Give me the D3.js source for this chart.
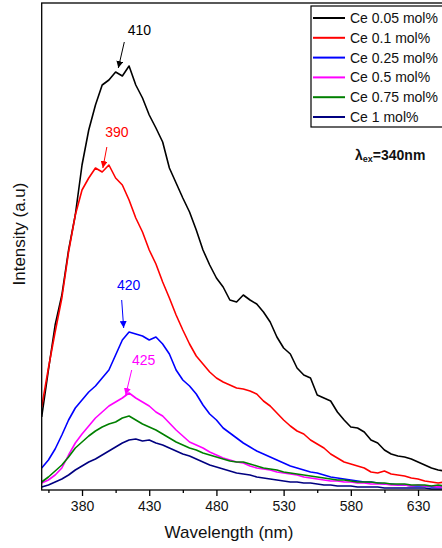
<!DOCTYPE html>
<html>
<head>
<meta charset="utf-8">
<script src="https://cdn.jsdelivr.net/npm/d3@7"></script>
<style>
  body { margin: 0; background: #fff; }
  svg { display: block; font-family: Arial, "Liberation Sans", sans-serif; }
</style>
</head>
<body>
<div id="chart"></div>
<script>
// wavelength grid (nm)
var wavelength = [350,355,360,365,370,375,380,385,390,395,400,405,410,415,420,425,430,435,440,445,
                  450,455,460,465,470,475,480,485,490,495,500,505,510,515,520,525,530,535,540,545,
                  550,555,560,565,570,575,580,585,590,595,600,605,610,615,620,625,630,635,640,645,650];

// PL intensity (a.u.)
var ce005 = [73,120,165,195,240,275,325,360,385,405,410,418,414,424,405,392,375,362,348,322,
             307,292,278,260,240,225,212,203,190,188,195,190,186,178,168,153,142,136,122,115,
             112,95,92,89,78,70,63,62,58,50,47,40,36,34,33,31,28,25,22,20,19];
var ce01  = [83,122,158,192,238,275,300,312,322,318,325,312,305,290,272,258,240,226,208,192,
             175,160,146,134,126,118,112,108,105,102,101,99,96,89,84,77,70,64,59,56,
             50,46,42,36,32,28,26,24,22,18,17,19,16,15,14,12,11,9,8,7,8];
var ce025 = [22,30,41,55,70,82,90,98,104,112,120,135,150,158,156,154,150,153,146,136,
             120,110,104,96,85,76,70,62,57,52,47,43,39,36,33,30,27,24,22,20,
             18,17,15,13,12,11,10,9,8,8,7,6,6,5,5,4,4,4,3,3,3];
var ce05  = [7,10,15,22,35,47,56,64,72,78,84,88,92,97,92,88,84,78,74,67,
             60,54,48,45,42,38,35,32,30,28,27,24,22,21,20,18,17,16,15,13,
             12,11,10,9,9,8,8,7,7,6,6,6,5,5,5,4,5,4,4,3,3];
var ce075 = [8,13,19,25,33,42,48,54,59,63,66,68,72,74,70,66,63,60,56,52,
             48,45,42,40,37,35,33,31,29,28,28,26,24,22,21,20,18,17,16,15,
             14,13,12,11,10,10,9,8,8,8,7,7,6,6,6,5,5,5,4,5,4];
var ce1   = [3,5,8,11,15,20,24,28,31,35,39,43,47,50,51,49,50,47,45,42,
             39,36,34,31,28,25,23,21,19,17,16,15,13,12,11,10,9,8,8,7,
             7,6,5,5,4,4,4,3,3,3,3,2,2,2,2,2,2,2,1,1,1];

var names  = ["Ce 0.05 mol%","Ce 0.1 mol%","Ce 0.25 mol%","Ce 0.5 mol%","Ce 0.75 mol%","Ce 1 mol%"];
var colors = ["#000000","#ff0000","#0000ff","#ff00ff","#008000","#000080"];
var xTicks = [380,430,480,530,580,630];

// peak labels: text, arrow tip (wavelength, intensity)
var peakLabels = ["410","390","420","425"];
var peakWl     = [407,395.5,411,412.5];
var peakI      = [422,322,162,95];
var peakColors = ["#000000","#ff0000","#0000ff","#ff00ff"];

var W = 442, H = 548;
var m = {left: 41.7, top: 3, bottom: 490};

var svg = d3.select("#chart").append("svg").attr("width", W).attr("height", H);

var x = d3.scaleLinear().domain([350, 650]).range([m.left, m.left + 300*1.344]);
var y = d3.scaleLinear().domain([0, 487]).range([m.bottom, m.top]);

var series = [ce005, ce01, ce025, ce05, ce075, ce1];

var line = d3.line()
    .x(function(d, i){ return x(wavelength[i]); })
    .y(function(d){ return y(d); });

var clip = svg.append("clipPath").attr("id", "clip")
    .append("rect").attr("x", m.left).attr("y", m.top)
    .attr("width", x(650) - m.left).attr("height", m.bottom - m.top);

var plot = svg.append("g").attr("clip-path", "url(#clip)");
series.forEach(function(s, k){
    plot.append("path").datum(s).attr("d", line)
        .attr("fill", "none").attr("stroke", colors[k])
        .attr("stroke-width", 1.6).attr("stroke-linejoin", "round");
});

// frame
svg.append("rect").attr("x", m.left).attr("y", m.top)
    .attr("width", x(650) - m.left).attr("height", m.bottom - m.top)
    .attr("fill", "none").attr("stroke", "#000").attr("stroke-width", 1.3);

// x axis
var axisX = d3.axisBottom(x).tickValues(xTicks).tickSize(6).tickPadding(5).tickFormat(d3.format("d"));
var gx = svg.append("g").attr("transform", "translate(0," + m.bottom + ")").call(axisX);
gx.select(".domain").remove();
gx.selectAll(".tick line").attr("stroke-width", 1.3);
gx.selectAll("text").attr("font-size", 14).attr("fill", "#111")
    .attr("font-family", "Arial, 'Liberation Sans', sans-serif");
var minorX = d3.axisBottom(x).tickValues([355,405,455,505,555,605]).tickSize(3).tickFormat("");
var gm = svg.append("g").attr("transform", "translate(0," + m.bottom + ")").call(minorX);
gm.select(".domain").remove();
gm.selectAll(".tick line").attr("stroke-width", 1.3);

svg.append("text").attr("x", 229).attr("y", 538).attr("text-anchor", "middle")
    .attr("font-size", 17).attr("fill", "#111").text("Wavelength (nm)");
svg.append("text").attr("transform", "translate(25,234) rotate(-90)").attr("text-anchor", "middle")
    .attr("font-size", 17).attr("fill", "#111").text("Intensity (a.u)");

// legend
var lg = svg.append("g");
lg.append("rect").attr("x", 311).attr("y", 6).attr("width", 140).attr("height", 121)
    .attr("fill", "#fff").attr("stroke", "#000").attr("stroke-width", 1.2);
names.forEach(function(n, k){
    var yy = 18 + k*19.8;
    lg.append("line").attr("x1", 313).attr("x2", 345).attr("y1", yy).attr("y2", yy)
        .attr("stroke", colors[k]).attr("stroke-width", 2);
    lg.append("text").attr("x", 350).attr("y", yy + 5).attr("font-size", 14)
        .attr("fill", "#111").text(n);
});

// excitation note
var ex = svg.append("text").attr("x", 355).attr("y", 160).attr("font-size", 14)
    .attr("font-weight", "bold").attr("fill", "#111");
ex.append("tspan").text("λ");
ex.append("tspan").attr("font-size", 9).attr("dy", 2).text("ex");
ex.append("tspan").attr("dy", -2).text("=340nm");

// peak arrows
var textOff  = [[21,-38],[14,-36],[5,-43],[18,-35]];
var startOff = [[6,-26],[4,-21],[-2,-28],[6,-25]];
var defs = svg.append("defs");
peakColors.forEach(function(c, k){
    defs.append("marker").attr("id", "ah" + k).attr("viewBox", "0 0 10 10")
        .attr("refX", 10).attr("refY", 5).attr("markerWidth", 7).attr("markerHeight", 7)
        .attr("markerUnits", "userSpaceOnUse").attr("orient", "auto")
        .append("path").attr("d", "M0,0L10,5L0,10z").attr("fill", c);
});
peakLabels.forEach(function(lab, k){
    var tx = x(peakWl[k]), ty = y(peakI[k]);
    svg.append("line").attr("x1", tx + startOff[k][0]).attr("y1", ty + startOff[k][1])
        .attr("x2", tx).attr("y2", ty).attr("stroke", peakColors[k]).attr("stroke-width", 1)
        .attr("marker-end", "url(#ah" + k + ")");
    svg.append("text").attr("x", tx + textOff[k][0]).attr("y", ty + textOff[k][1] + 5)
        .attr("text-anchor", "middle").attr("font-size", 14).attr("fill", peakColors[k]).text(lab);
});
</script>
</body>
</html>
